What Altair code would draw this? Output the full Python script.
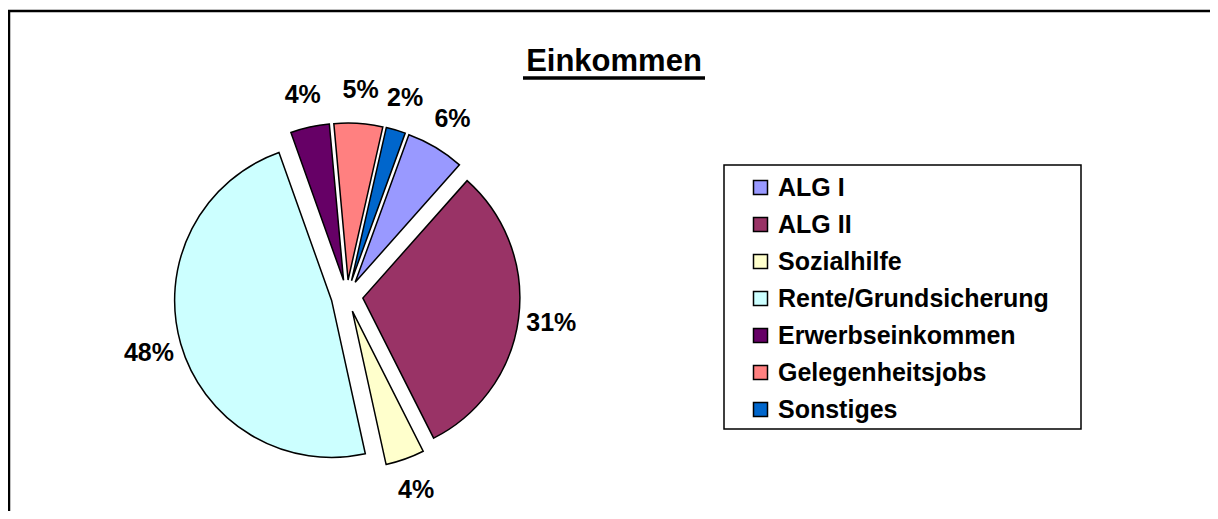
import altair as alt
import pandas as pd

categories = ["ALG I", "ALG II", "Sozialhilfe", "Rente/Grundsicherung",
              "Erwerbseinkommen", "Gelegenheitsjobs", "Sonstiges"]
values = [6, 31, 4, 48, 4, 5, 2]
colors = ["#9999FF", "#993366", "#FFFFCC", "#CCFFFF", "#660066", "#FF8080", "#0066CC"]

df = pd.DataFrame({"cat": categories, "value": values, "order": list(range(len(categories)))})

CX, CY, R, EXPL, LR = 339, 288, 157, 16, 206
START = 20 * 3.141592653589793 / 180

FONT = "Liberation Sans"

base = alt.Chart(df).transform_joinaggregate(
    total="sum(value)"
).transform_window(
    cum="sum(value)", sort=[alt.SortField("order")], frame=[None, 0]
).transform_calculate(
    t1=f"{START} + 2*PI*datum.cum/datum.total",
    t0=f"{START} + 2*PI*(datum.cum-datum.value)/datum.total",
).transform_calculate(
    mid="(datum.t0 + datum.t1)/2",
    pct="datum.value/datum.total",
).transform_calculate(
    ex=f"{CX} + {EXPL}*sin(datum.mid)",
    ey=f"{CY} - {EXPL}*cos(datum.mid)",
    lx=f"{CX} + {LR}*sin(datum.mid)",
    ly=f"{CY} - {LR}*cos(datum.mid)",
)

arcs = base.mark_arc(radius=R, stroke="black", strokeWidth=1.5).encode(
    theta=alt.Theta("t0:Q", scale=None, stack=None),
    theta2="t1:Q",
    x=alt.X("ex:Q", scale=None, axis=None),
    y=alt.Y("ey:Q", scale=None, axis=None),
    color=alt.Color(
        "cat:N",
        scale=alt.Scale(domain=categories, range=colors),
        sort=categories,
        legend=alt.Legend(
            orient="none", legendX=740, legendY=167, title=None,
            symbolType="square", symbolSize=196, symbolStrokeColor="black",
            symbolStrokeWidth=1.5, labelFont=FONT, labelFontSize=25,
            labelFontWeight="bold", labelColor="black", labelOffset=5,
            rowPadding=11, labelLimit=400,
        ),
    ),
    order=alt.Order("order:Q"),
)

labels = base.mark_text(font=FONT, fontSize=25, fontWeight="bold", color="black",
                        align="center", baseline="middle").encode(
    x=alt.X("lx:Q", scale=None, axis=None),
    y=alt.Y("ly:Q", scale=None, axis=None),
    text=alt.Text("pct:Q", format=".0%"),
)

title_df = pd.DataFrame({"t": ["Einkommen"]})
title = alt.Chart(title_df).mark_text(font=FONT, fontSize=31, fontWeight="bold", color="black",
                                      align="center", baseline="alphabetic").encode(
    x=alt.value(606), y=alt.value(63), text="t:N"
)
underline = alt.Chart(title_df).mark_rule(color="black", strokeWidth=3.5).encode(
    x=alt.value(515), x2=alt.value(697), y=alt.value(70)
)

box = alt.Chart(title_df).mark_rect(fill="white", stroke="black", strokeWidth=1.5).encode(
    x=alt.value(716), x2=alt.value(1073), y=alt.value(157), y2=alt.value(421)
)
cover = alt.Chart(title_df).mark_rect(fill="white", strokeWidth=0).encode(
    x=alt.value(1188), x2=alt.value(1202), y=alt.value(0), y2=alt.value(503)
)
border_top = alt.Chart(title_df).mark_rule(color="black", strokeWidth=2.5).encode(
    x=alt.value(0), x2=alt.value(1202), y=alt.value(3)
)
border_left = alt.Chart(title_df).mark_rule(color="black", strokeWidth=2.5).encode(
    x=alt.value(1), y=alt.value(2), y2=alt.value(503)
)

chart = alt.layer(border_left, box, arcs, labels, title, underline, cover, border_top).properties(
    width=1202, height=503, autosize="none", padding=0
).configure_view(stroke=None)

chart.save("out.html", embed_options={"renderer": "svg", "actions": False})
